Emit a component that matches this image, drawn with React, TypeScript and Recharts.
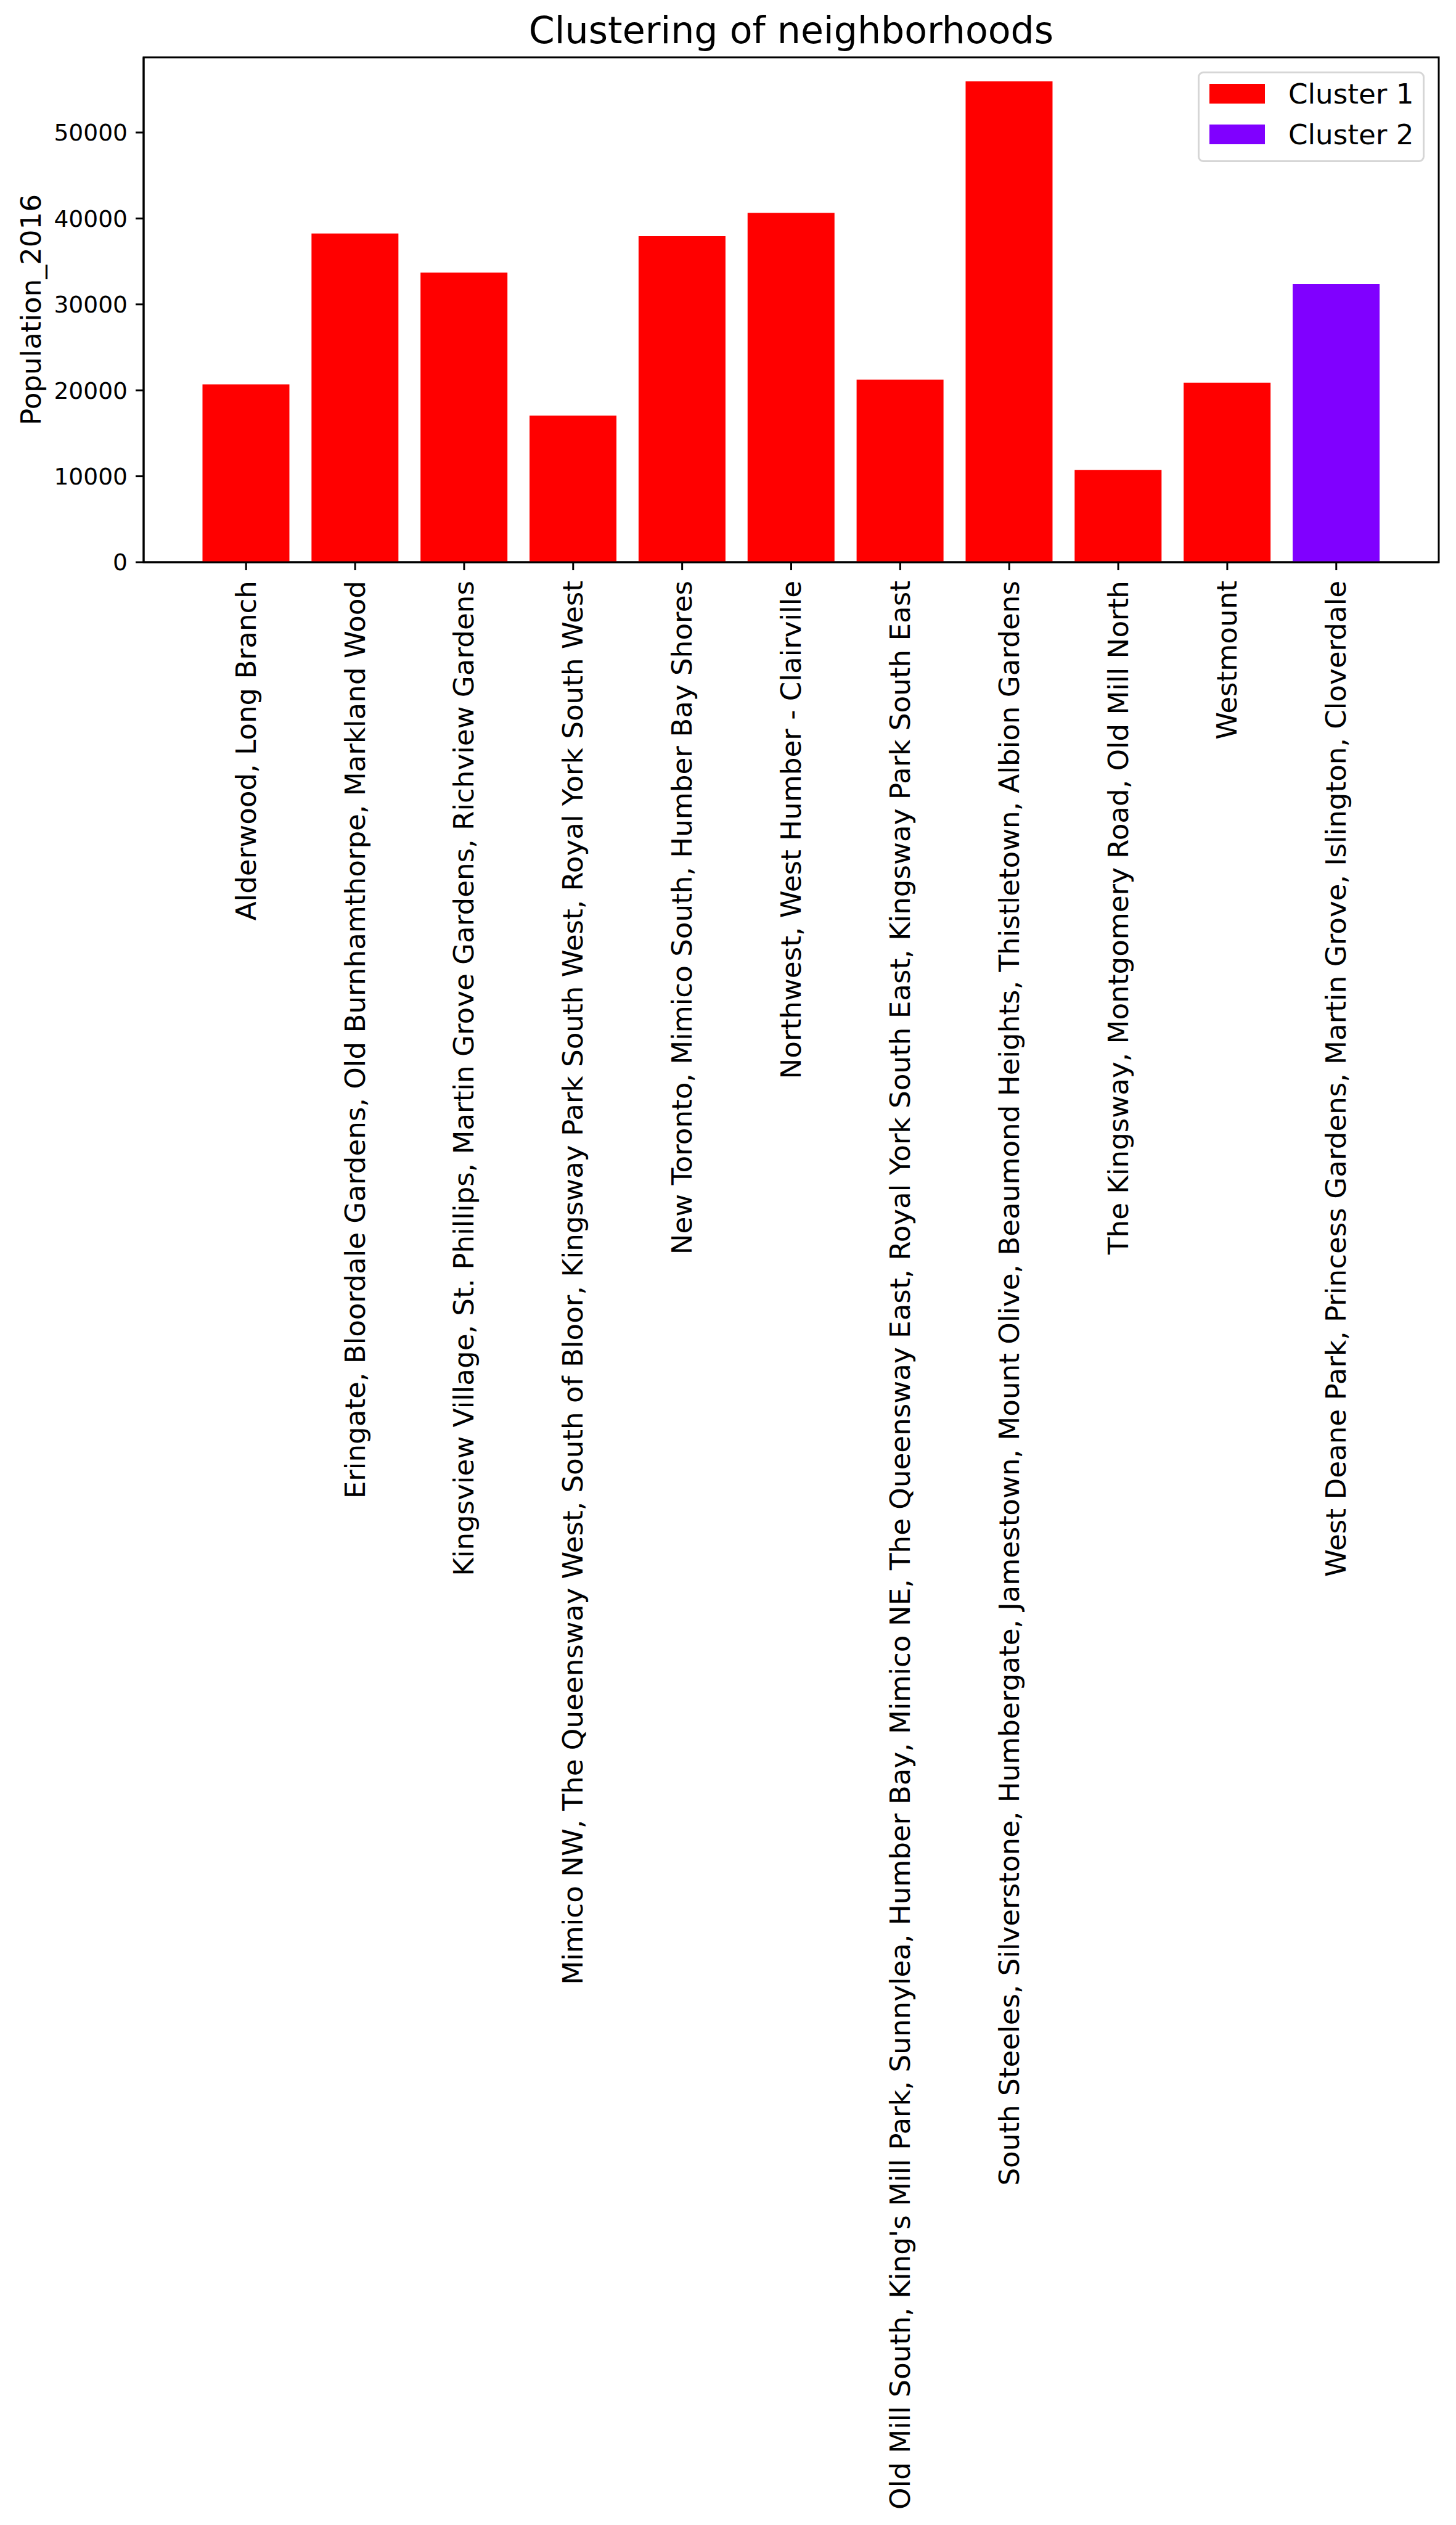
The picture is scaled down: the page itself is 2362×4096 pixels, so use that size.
import React from "react";
import * as R from "recharts";
import { BarChart, Bar, XAxis, YAxis, Cell, Legend, Customized } from "recharts";

const neighborhoods = [
  "Alderwood, Long Branch",
  "Eringate, Bloordale Gardens, Old Burnhamthorpe, Markland Wood",
  "Kingsview Village, St. Phillips, Martin Grove Gardens, Richview Gardens",
  "Mimico NW, The Queensway West, South of Bloor, Kingsway Park South West, Royal York South West",
  "New Toronto, Mimico South, Humber Bay Shores",
  "Northwest, West Humber - Clairville",
  "Old Mill South, King's Mill Park, Sunnylea, Humber Bay, Mimico NE, The Queensway East, Royal York South East, Kingsway Park South East",
  "South Steeles, Silverstone, Humbergate, Jamestown, Mount Olive, Beaumond Heights, Thistletown, Albion Gardens",
  "The Kingsway, Montgomery Road, Old Mill North",
  "Westmount",
  "West Deane Park, Princess Gardens, Martin Grove, Islington, Cloverdale",
];

const population2016 = [20700, 38250, 33700, 17050, 37950, 40650, 21250, 55950, 10750, 20900, 32350];

const clusterOf = [0, 0, 0, 0, 0, 0, 0, 0, 0, 0, 1];
const clusterNames = ["Cluster 1", "Cluster 2"];
const clusterColors = ["#ff0000", "#8000ff"];

const yTicks = [0, 10000, 20000, 30000, 40000, 50000];

const data = neighborhoods.map((name, i) => ({
  name,
  population: population2016[i],
  cluster: clusterOf[i],
}));

const FONT = "'DejaVu Sans', sans-serif";

// plot area hook (recharts 3)
const usePlot: () => any =
  (R as any).usePlotArea ||
  (() => {
    const off = (R as any).useOffset ? (R as any).useOffset() : null;
    const w = (R as any).useChartWidth ? (R as any).useChartWidth() : null;
    const h = (R as any).useChartHeight ? (R as any).useChartHeight() : null;
    if (!off || !w || !h) return null;
    return { x: off.left, y: off.top, width: w - off.left - off.right, height: h - off.top - off.bottom };
  });

function Frame() {
  const area = usePlot();
  if (!area) return null;
  return (
    <rect
      x={area.x}
      y={area.y}
      width={area.width}
      height={area.height}
      fill="none"
      stroke="#000"
      strokeWidth={3}
    />
  );
}

function XTick(props: any) {
  const { x, y, payload } = props;
  return (
    <text
      transform={`translate(${x},${y}) rotate(-90)`}
      textAnchor="end"
      dominantBaseline="central"
      fontFamily={FONT}
      fontSize={45.2}
      fill="#000"
    >
      {payload.value}
    </text>
  );
}

function YLabel(props: any) {
  const vb = props.viewBox || {};
  const cy = vb.y + vb.height / 2;
  return (
    <text
      transform={`translate(50,${cy}) rotate(-90)`}
      textAnchor="middle"
      dominantBaseline="central"
      fontFamily={FONT}
      fontSize={45.2}
      fill="#000"
    >
      Population_2016
    </text>
  );
}

function ClusterLegend() {
  return (
    <div
      style={{
        position: "relative",
        width: 368,
        height: 147,
        boxSizing: "border-box",
        border: "3.8px solid #d6d6d6",
        borderRadius: 9,
        background: "#fff",
        fontFamily: FONT,
      }}
    >
      {clusterNames.map((n, i) => (
        <React.Fragment key={n}>
          <div
            style={{
              position: "absolute",
              left: 16,
              top: 17 + i * 66,
              width: 90,
              height: 32,
              background: clusterColors[i],
            }}
          />
          <div
            style={{
              position: "absolute",
              left: 144,
              top: 11 + i * 66,
              fontSize: 45.2,
              lineHeight: "45px",
              color: "#000",
              whiteSpace: "nowrap",
            }}
          >
            {n}
          </div>
        </React.Fragment>
      ))}
    </div>
  );
}

export default function App() {
  return (
    <div style={{ position: "relative", width: 2362, height: 4090, background: "#fff" }}>
      <style>{"body{margin:0;background:#fff}"}</style>
      <div
        style={{
          position: "absolute",
          left: 233,
          top: 19,
          width: 2101,
          textAlign: "center",
          fontFamily: FONT,
          fontSize: 60.2,
          lineHeight: "60.2px",
          color: "#000",
        }}
      >
        Clustering of neighborhoods
      </div>
      <BarChart
        width={2362}
        height={4090}
        data={data}
        margin={{ top: 93, right: 28, left: 133, bottom: 28 }}
        barCategoryGap="10%"
      >
        <XAxis
          dataKey="name"
          interval={0}
          height={3150}
          padding={{ left: 77.8, right: 77.8 }}
          axisLine={{ stroke: "#000", strokeWidth: 3 }}
          tickLine={{ stroke: "#000", strokeWidth: 3 }}
          tickSize={13}
          tickMargin={17}
          tick={<XTick />}
        />
        <YAxis
          type="number"
          domain={[0, 58750]}
          ticks={yTicks}
          width={100}
          axisLine={{ stroke: "#000", strokeWidth: 3 }}
          tickLine={{ stroke: "#000", strokeWidth: 3 }}
          tickSize={13}
          tickMargin={13}
          tick={{ fontFamily: FONT, fontSize: 37.6, fill: "#000" }}
          label={<YLabel />}
        />
        <Legend
          layout="vertical"
          align="center"
          verticalAlign="middle"
          content={() => <ClusterLegend />}
          wrapperStyle={{ left: 1943, top: 116, width: 368, height: 147 }}
        />
        <Bar dataKey="population" isAnimationActive={false}>
          {data.map((d, i) => (
            <Cell key={`cell-${i}`} fill={clusterColors[d.cluster]} />
          ))}
        </Bar>
        <Customized component={<Frame />} />
      </BarChart>
    </div>
  );
}
